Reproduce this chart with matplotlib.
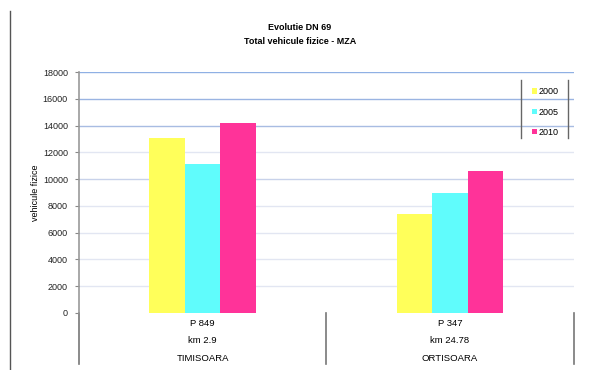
import matplotlib
matplotlib.use("Agg")
import matplotlib.pyplot as plt
from matplotlib.lines import Line2D
import numpy as np

plt.rcParams['font.family'] = ['Liberation Sans', 'DejaVu Sans']

# data
points = ["P 849", "P 347"]
kms = ["km 2.9", "km 24.78"]
places = ["TIMISOARA", "ORTISOARA"]
years = ["2000", "2005", "2010"]
v2000 = [13100, 7400]
v2005 = [11150, 9000]
v2010 = [14200, 10600]
yticks = [0, 2000, 4000, 6000, 8000, 10000, 12000, 14000, 16000, 18000]

colors = ["#ffff5a", "#60fcfc", "#ff3399"]
series = [v2000, v2005, v2010]

fig = plt.figure(figsize=(5.94, 3.70), dpi=100)
ax = fig.add_axes([79 / 594, 1 - 313 / 370, (573.7 - 79) / 594, (313 - 72) / 370])

x = np.arange(len(points))
w = 0.144
for i, (vals, c) in enumerate(zip(series, colors)):
    ax.bar(x + (i - 1) * w, vals, width=w, color=c, zorder=3, label=years[i])

ax.set_xlim(-0.5, len(points) - 0.5)
ax.set_ylim(0, 18000)
ax.set_yticks(yticks)
ax.set_yticklabels([str(t) for t in yticks], fontsize=6.5, color="#222222")
ax.tick_params(axis='y', length=3, width=0.8, color="#888888", pad=5)
ax.set_xticks([])

# horizontal grid lines
grid_col = {18000: "#8fb0e4", 16000: "#9ab4e2", 14000: "#a8bce2", 10000: "#c8d2ea"}
for t in yticks[1:]:
    ax.axhline(t, color=grid_col.get(t, "#e2e6f2"), lw=1.0, zorder=1)

for s in ["top", "right", "bottom"]:
    ax.spines[s].set_visible(False)
ax.spines["left"].set_color("#999999")
ax.spines["left"].set_linewidth(1.2)

ax.set_ylabel("vehicule fizice", fontsize=6.5, labelpad=2)

# category labels below the plot
trans = ax.get_xaxis_transform()
for i in range(len(points)):
    ax.text(x[i], -0.045, points[i], transform=trans, ha="center", va="center", fontsize=6.8)
    ax.text(x[i], -0.116, kms[i], transform=trans, ha="center", va="center", fontsize=6.8)
    ax.text(x[i], -0.187, places[i], transform=trans, ha="center", va="center", fontsize=6.8)
for xs in [-0.5, 0.5, 1.5]:
    ax.add_line(Line2D([xs, xs], [0, -0.212], transform=trans, color="#777777",
                       lw=1.2, clip_on=False))

# title
fig.text(0.505, 1 - 27 / 370, "Evolutie DN 69", ha="center", va="center",
         fontsize=6.5, fontweight="bold")
fig.text(0.505, 1 - 41 / 370, "Total vehicule fizice - MZA", ha="center", va="center",
         fontsize=6.5, fontweight="bold")

# outer frame line
fig.add_artist(Line2D([10 / 594, 10 / 594], [0, 1 - 11 / 370], transform=fig.transFigure,
                      color="#555555", lw=1.0))

# legend
leg = fig.legend(loc="upper left", bbox_to_anchor=(525 / 594, 1 - 80 / 370),
                 frameon=False, fontsize=6.5, handlelength=0.5, handleheight=0.5,
                 handletextpad=0.2, labelspacing=1.25, borderpad=0.3)
for xl in [521, 568]:
    fig.add_artist(Line2D([xl / 594, xl / 594], [1 - 80 / 370, 1 - 138 / 370],
                          transform=fig.transFigure, color="#666666", lw=1.0))

fig.savefig("out.png", dpi=100)
